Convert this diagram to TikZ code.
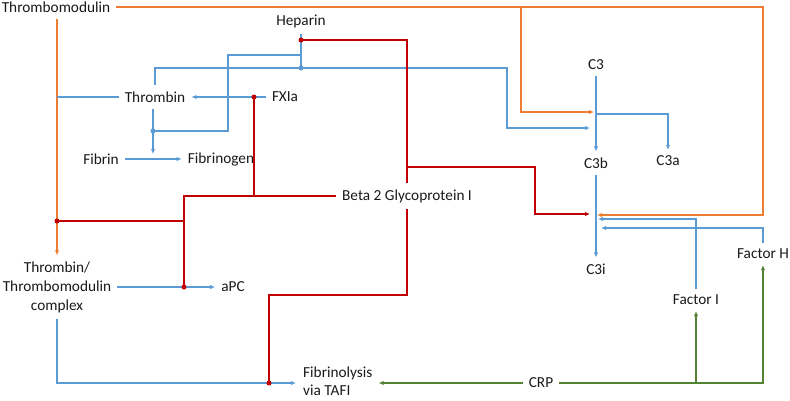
\documentclass[tikz,border=0pt]{standalone}
\usepackage{fontspec}
\setmainfont{Carlito}
\usetikzlibrary{arrows.meta}
\definecolor{cor}{HTML}{ED7D31}
\definecolor{cbl}{HTML}{5B9BD5}
\definecolor{crd}{HTML}{C00000}
\definecolor{cgr}{HTML}{548235}
\begin{document}
\begin{tikzpicture}[x=1pt,y=-1pt,
 lbl/.style={font=\fontsize{15.3}{19}\selectfont, inner sep=6pt, text=black!90},
 ln/.style={line width=1.4pt},
 orl/.style={ln,draw=cor},
 bll/.style={ln,draw=cbl},
 rdl/.style={line width=1.6pt,draw=crd},
 grl/.style={ln,draw=cgr},
 tip/.style={-{Latex[length=5pt,width=4.5pt]}},
 rdot/.style={circle,fill=crd,inner sep=0pt,minimum size=5pt},
 bdot/.style={circle,fill=cbl,inner sep=0pt,minimum size=5pt}]
\useasboundingbox (0,0) rectangle (790,400);
% labels
\node[lbl] (tm) at (56,7) {Thrombomodulin};
\node[lbl] (hep) at (301,21) {Heparin};
\node[lbl] (thr) at (155,97) {Thrombin};
\node[lbl] (fxia) at (285,97) {FXIa};
\node[lbl] (fib) at (101,159) {Fibrin};
\node[lbl] (fbg) at (221,159) {Fibrinogen};
\node[lbl] (b2) at (407,196) {Beta 2 Glycoprotein I};
\node[lbl] (c3) at (596,65) {C3};
\node[lbl] (c3b) at (596,163) {C3b};
\node[lbl] (c3a) at (668,161) {C3a};
\node[lbl] (c3i) at (596,269) {C3i};
\node[lbl] (fi) at (696,300) {Factor I};
\node[lbl] (fh) at (763,254) {Factor H};
\node[lbl] (crp) at (541,383) {CRP};
\node[lbl,align=center] (ttc) at (57,287) {Thrombin/\\Thrombomodulin\\complex};
\node[lbl] (apc) at (233,287) {aPC};
\node[lbl,align=left,anchor=west,font=\fontsize{15.3}{18.5}\selectfont] (fibr) at (297,381) {Fibrinolysis\\via TAFI};
% junctions
\coordinate (hd) at (301,68);
\coordinate (hr) at (301,40);
\coordinate (h55) at (301,55);
\coordinate (t131) at (153,131);
\coordinate (tdn) at (153,154);
\coordinate (fxd) at (254,97);
\coordinate (rapc) at (184,287);
\coordinate (otm) at (57,221);
\coordinate (rfib) at (269,383);
\coordinate (r295) at (407,295);
\coordinate (r167) at (407,167);
\coordinate (c3j) at (596,114);
\coordinate (o7) at (521,7);
\coordinate (fw) at (296,383);
% orange
\draw[orl,tip] (tm.east) -| (763,215) -- (597,215);
\draw[orl,tip] (o7) |- (594,112);
\draw[orl,tip] (tm.south -| ttc.north) -- (ttc.north);
% blue
\draw[bll] (hep.south) -- (hd);
\draw[bll] (h55) -- (228,55) |- (t131);
\draw[bll,tip] (thr.north) |- (hd) -- (507,68) |- (590,128);
\draw[bll] (thr.west) -- (thr.west -| ttc.north);
\draw[bll,tip] (fxia.west) -- (thr.east);
\draw[bll,tip] (thr.south -| tdn) -- (tdn);
\draw[bll,tip] (fib.east) -- (fbg.west);
\draw[bll,tip] (c3.south) -- (c3b.north);
\draw[bll,tip] (c3j) -| (c3a.north);
\draw[bll,tip] (c3b.south) -- (c3i.north);
\draw[bll,tip] (fi.north) |- (598,219);
\draw[bll,tip] (fh.north) |- (601,228);
\draw[bll,tip] (ttc.east |- apc.west) -- (apc.west);
\draw[bll,tip] (ttc.south) |- (fw);
% red
\draw[rdl] (hr) -| (b2.north);
\draw[rdl,tip] (r167) -| (535,214) -- (590,214);
\draw[rdl] (b2.south) -- (r295) -| (rfib);
\draw[rdl] (b2.west) -| (rapc);
\draw[rdl] (fxd) -- (fxd |- b2.west);
\draw[rdl] (otm) -- (otm -| rapc);
% green
\draw[grl,tip] (crp.west) -- (crp.west -| fibr.east);
\draw[grl,tip] (crp.east) -| (fh.south);
\draw[grl,tip] (crp.east -| fi.south) -- (fi.south);
% dots
\node[rdot] (d1) at (hr) {};
\node[rdot] (d2) at (fxd) {};
\node[rdot] (d3) at (rapc) {};
\node[rdot] (d4) at (otm) {};
\node[rdot] (d5) at (rfib) {};
\node[bdot] (d6) at (hd) {};
\node[bdot] (d7) at (t131) {};
\end{tikzpicture}
\end{document}
